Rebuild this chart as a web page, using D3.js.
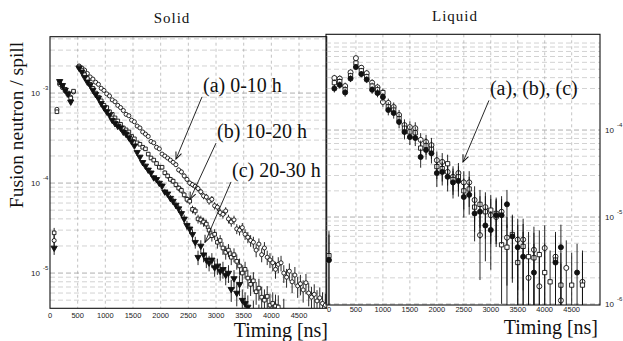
<!DOCTYPE html>
<html>
<head>
<meta charset="utf-8">
<script src="https://cdn.jsdelivr.net/npm/d3@7"></script>
<style>
  body { margin: 0; background: #fff; }
  svg { display: block; }
</style>
</head>
<body>
<svg id="chart" width="623" height="341"></svg>
<script>
// ---- Solid target: 50 ns bins, fusion neutrons per spill ----
const solidTimeNs = [
  25, 75, 125, 175, 225, 275, 325, 375, 425, 475,
  525, 575, 625, 675, 725, 775, 825, 875, 925, 975,
  1025, 1075, 1125, 1175, 1225, 1275, 1325, 1375, 1425, 1475,
  1525, 1575, 1625, 1675, 1725, 1775, 1825, 1875, 1925, 1975,
  2025, 2075, 2125, 2175, 2225, 2275, 2325, 2375, 2425, 2475,
  2525, 2575, 2625, 2675, 2725, 2775, 2825, 2875, 2925, 2975,
  3025, 3075, 3125, 3175, 3225, 3275, 3325, 3375, 3425, 3475,
  3525, 3575, 3625, 3675, 3725, 3775, 3825, 3875, 3925, 3975,
  4025, 4075, 4125, 4175, 4225, 4275, 4325, 4375, 4425, 4475,
  4525, 4575, 4625, 4675, 4725, 4775, 4825, 4875, 4925, 4975
];
// (a) 0-10 h
const solidA = [
  null, 2.3e-5, 6.6e-4, 1.25e-3, 1.15e-3, 1.05e-3, 9.6e-4, 9.0e-4, 1.03e-3, null,
  2.0e-3, 1.9e-3, 1.8e-3, 1.65e-3, 1.51e-3, 1.43e-3, 1.32e-3, 1.25e-3, 1.13e-3, 1.07e-3,
  9.8e-4, 9.3e-4, 8.4e-4, 8.0e-4, 7.3e-4, 6.9e-4, 6.4e-4, 5.8e-4, 5.6e-4, 5.0e-4,
  4.8e-4, 4.3e-4, 4.1e-4, 3.7e-4, 3.5e-4, 3.3e-4, 2.9e-4, 2.8e-4, 2.5e-4, 2.4e-4,
  2.1e-4, 2.0e-4, 1.9e-4, 1.8e-4, 1.7e-4, 1.6e-4, 1.4e-4, 1.33e-4, 1.2e-4, 1.1e-4,
  1.0e-4, 9.6e-5, 9.2e-5, 8.7e-5, 8.0e-5, 7.2e-5, 7.0e-5, 6.3e-5, 6.6e-5, 5.6e-5,
  5.4e-5, 4.7e-5, 4.5e-5, 4.9e-5, 4.0e-5, 3.7e-5, 3.9e-5, 3.1e-5, 3.0e-5, 3.2e-5,
  2.7e-5, 2.5e-5, 2.3e-5, 2.2e-5, 1.8e-5, 2.1e-5, 1.6e-5, 1.9e-5, 1.5e-5, 1.4e-5,
  1.3e-5, 1.1e-5, 1.25e-5, 1.3e-5, 1.0e-5, 9.0e-6, 1.05e-5, 8.0e-6, 9.5e-6, 7.2e-6,
  7.6e-6, 6.5e-6, 7.8e-6, 6.0e-6, 5.4e-6, 5.8e-6, 4.9e-6, 5.3e-6, 4.6e-6, 4.4e-6
];
// (b) 10-20 h
const solidB = [
  null, 2.8e-5, 6.2e-4, 1.3e-3, 1.2e-3, 1.1e-3, 1.0e-3, 8.8e-4, 1.05e-3, null,
  1.95e-3, 1.8e-3, 1.6e-3, 1.45e-3, 1.25e-3, 1.13e-3, 1.0e-3, 9.0e-4, 8.2e-4, 7.3e-4,
  6.9e-4, 6.2e-4, 5.8e-4, 5.3e-4, 4.9e-4, 4.5e-4, 4.1e-4, 3.9e-4, 3.7e-4, 3.3e-4,
  3.1e-4, 2.8e-4, 2.7e-4, 2.5e-4, 2.4e-4, 2.1e-4, 1.9e-4, 1.8e-4, 1.65e-4, 1.5e-4,
  1.5e-4, 1.3e-4, 1.2e-4, 1.1e-4, 1.05e-4, 9.6e-5, 8.8e-5, 8.3e-5, 7.4e-5, 6.6e-5,
  6.3e-5, 5.1e-5, 4.9e-5, 4.0e-5, 3.9e-5, 3.7e-5, 3.5e-5, 3.0e-5, 2.6e-5, 2.7e-5,
  2.2e-5, 2.3e-5, 1.9e-5, 1.7e-5, 1.8e-5, 1.5e-5, 1.6e-5, 1.35e-5, 1.2e-5, 1.0e-5,
  1.1e-5, 8.8e-6, 7.5e-6, 8.2e-6, 6.2e-6, 6.8e-6, 5.4e-6, 5.0e-6, 5.5e-6, 4.4e-6,
  4.6e-6, 4.3e-6, 4.2e-6, null, 3.8e-6, null, null, null, null, null,
  null, null, null, null, null, null, null, null, null, null
];
// (c) 20-30 h
const solidC = [
  null, 1.9e-5, null, 1.35e-3, 1.22e-3, 1.08e-3, 9.8e-4, 8.0e-4, null, null,
  1.9e-3, 1.72e-3, 1.5e-3, 1.33e-3, 1.23e-3, 1.08e-3, 9.7e-4, 8.8e-4, 7.7e-4, 6.9e-4,
  6.2e-4, 5.7e-4, 5.0e-4, 4.6e-4, 4.3e-4, 4.1e-4, 3.7e-4, 3.5e-4, 3.2e-4, 2.9e-4,
  2.6e-4, 2.2e-4, 1.95e-4, 1.7e-4, 1.55e-4, 1.4e-4, 1.3e-4, 1.15e-4, 1.1e-4, 1.0e-4,
  9.3e-5, 8.0e-5, 7.6e-5, 6.8e-5, 6.3e-5, 5.7e-5, 5.2e-5, 4.6e-5, 4.0e-5, 3.4e-5,
  3.1e-5, 2.7e-5, 2.2e-5, 1.5e-5, 2.0e-5, 1.6e-5, 1.4e-5, 1.3e-5, 1.4e-5, 1.15e-5,
  1.2e-5, 1.05e-5, 1.1e-5, 9.5e-6, 1.0e-5, 6.6e-6, 8.7e-6, 6.0e-6, 7.5e-6, 5.0e-6,
  4.6e-6, 4.2e-6, null, 3.6e-6, null, 3.2e-6, null, null, null, null,
  null, null, null, null, null, null, null, null, null, null,
  null, null, null, null, null, null, null, null, null, null
];

// ---- Liquid target: 100 ns bins ----
const liquidTimeNs = [
  0, 100, 200, 300, 400, 500, 600, 700, 800, 900,
  1000, 1100, 1200, 1300, 1400, 1500, 1600, 1700, 1800, 1900,
  2000, 2100, 2200, 2300, 2400, 2500, 2600, 2700, 2800, 2900,
  3000, 3100, 3200, 3300, 3400, 3500, 3600, 3700, 3800, 3900,
  4000, 4100, 4200, 4300, 4400, 4500, 4600, 4700, 4800, 4900
];
const liquidA = [
  null, 3.96e-4, 3.9e-4, 3.2e-4, 4.6e-4, 6.7e-4, 5.2e-4, 4.5e-4, 3.5e-4, 3.1e-4,
  2.1e-4, 2.05e-4, 1.84e-4, 1.49e-4, 1.14e-4, 1.08e-4, 1.05e-4, 7.7e-5, 7.3e-5, 6.7e-5,
  4.5e-5, 4.3e-5, 3.3e-5, 2.9e-5, 3.2e-5, 2.5e-5, 2.5e-5, 1.57e-5, 6.2e-6, 1.3e-5,
  1.05e-5, 1.0e-5, 1.15e-5, 5.8e-6, null, 5.5e-6, 5.5e-6, 2.0e-6, 4.2e-6, 1.6e-6,
  4.4e-6, null, 3.5e-6, 1.1e-6, 2.6e-6, null, null, 1.8e-6, null, null
];
const liquidB = [
  3.6e-6, 3.5e-4, 3.6e-4, 2.9e-4, 4.2e-4, 5.9e-4, 4.8e-4, 4.1e-4, 3.2e-4, 2.9e-4,
  2.7e-4, 1.85e-4, 1.7e-4, 1.35e-4, 1.05e-4, 9.5e-5, 9.3e-5, 6.2e-5, 6.6e-5, 6.0e-5,
  3.8e-5, 3.6e-5, 4.1e-5, 2.7e-5, 2.9e-5, 2.0e-5, 2.1e-5, 1.3e-5, 1.4e-5, 1.15e-5,
  1.2e-5, 1.1e-5, 4.8e-6, 4.5e-6, 6.3e-6, 3.0e-6, 4.6e-6, 3.5e-6, 3.4e-6, 3.7e-6,
  2.3e-6, 1.8e-6, 3.2e-6, 1.65e-6, null, 1.65e-6, null, 1.65e-6, null, null
];
const liquidC = [
  3.2e-6, 3.0e-4, 3.3e-4, 2.7e-4, 3.9e-4, 5.3e-4, 4.4e-4, 3.8e-4, 2.9e-4, 2.66e-4,
  2.4e-4, 1.7e-4, 1.57e-4, 1.24e-4, 9.5e-5, 8.3e-5, 8.1e-5, 4.9e-5, 5.9e-5, 5.4e-5,
  3.2e-5, 3.3e-5, 2.9e-5, 2.5e-5, 2.6e-5, 1.7e-5, 1.8e-5, 1.1e-5, 1.15e-5, 8.0e-6,
  7.1e-6, 1.05e-5, 1.05e-5, 1.4e-5, 6.0e-6, 4.5e-6, 3.5e-6, null, 2.3e-6, null,
  null, null, 3.0e-6, 4.5e-6, null, null, 2.3e-6, null, null, null
];

// ---- Axis ticks and labels ----
const timeTicks = [0, 500, 1000, 1500, 2000, 2500, 3000, 3500, 4000, 4500];
const solidDecades = [1e-3, 1e-4, 1e-5];
const liquidDecades = [1e-4, 1e-5, 1e-6];
const solidLabels = ["(a) 0-10 h", "(b) 10-20 h", "(c) 20-30 h"];
const liquidLabels = ["(a), (b), (c)"];
// label anchor [time, value] and arrow tip [time, value]
const solidLabelAt = [[2765, 1.03e-3], [3018, 3.16e-4], [3289, 1.17e-4]];
const solidArrowTip = [[2277, 1.85e-4], [2530, 6.6e-5], [2801, 2.2e-5]];
const liquidLabelAt = [[2985, 2.5e-4]];
const liquidArrowTip = [[2485, 4.3e-5]];

const SERIF = "'Liberation Serif', 'Times New Roman', serif";
const SANS = "'Liberation Sans', Arial, sans-serif";

const svg = d3.select("#chart");

// marker shapes for (a), (b), (c) in each panel
const solidMarkers = [
  { type: d3.symbolCircle, area: 13, fill: "#fff", rotate: 0 },
  { type: d3.symbolSquare, area: 13, fill: "#fff", rotate: 0 },
  { type: d3.symbolTriangle, area: 17, fill: "#111", rotate: 180 }
];
const liquidMarkers = [
  { type: d3.symbolCircle, area: 20, fill: "#fff", rotate: 0 },
  { type: d3.symbolSquare, area: 18, fill: "#fff", rotate: 0 },
  { type: d3.symbolCircle, area: 20, fill: "#111", rotate: 0 }
];

const panels = [
  {
    id: "solid", title: "Solid", titleX: 172, titleY: 23,
    time: solidTimeNs, series: [solidA, solidB, solidC], markers: solidMarkers,
    x: d3.scaleLinear().domain([0, 5000]).range([50, 326.7]),
    y: d3.scaleLog().domain([4.06e-6, 4.23e-3]).range([308.3, 36.7]),
    decades: solidDecades, decadeSide: "left",
    countUnit: 5e-7,
    labels: solidLabels, labelAt: solidLabelAt, arrowTip: solidArrowTip,
    tickLabelY: 317.5, axisTitleX: 328, axisTitleY: 336.5
  },
  {
    id: "liquid", title: "Liquid", titleX: 455, titleY: 21,
    time: liquidTimeNs, series: [liquidA, liquidB, liquidC], markers: liquidMarkers,
    x: d3.scaleLinear().domain([-55, 5025]).range([326, 600]),
    y: d3.scaleLog().domain([9.75e-7, 1.26e-3]).range([305, 34.3]),
    decades: liquidDecades, decadeSide: "right",
    countUnit: 3e-6,
    labels: liquidLabels, labelAt: liquidLabelAt, arrowTip: liquidArrowTip,
    tickLabelY: 312, axisTitleX: 598, axisTitleY: 334
  }
];

const defs = svg.append("defs");
defs.append("marker")
  .attr("id", "arrowhead")
  .attr("viewBox", "-8 -4 9 8")
  .attr("refX", 0).attr("refY", 0)
  .attr("markerWidth", 9).attr("markerHeight", 8)
  .attr("markerUnits", "userSpaceOnUse")
  .attr("orient", "auto")
  .append("path")
  .attr("d", "M-7,-3 L0,0 L-7,3")
  .attr("fill", "none").attr("stroke", "#111").attr("stroke-width", 1);

panels.forEach(p => {
  const [x0, x1] = p.x.range();
  const [yb, yt] = p.y.range();
  const g = svg.append("g").attr("class", "panel-" + p.id);

  defs.append("clipPath").attr("id", "clip-" + p.id)
    .append("rect").attr("x", x0).attr("y", yt)
    .attr("width", x1 - x0).attr("height", yb - yt);

  // horizontal log grid (decades + 2..9 subdivisions)
  const grid = g.append("g");
  grid.selectAll("line.h").data(p.y.ticks()).join("line")
    .attr("x1", x0).attr("x2", x1)
    .attr("y1", d => p.y(d)).attr("y2", d => p.y(d))
    .attr("stroke", d => p.decades.includes(d) ? "#777" : "#b4b4b4")
    .attr("stroke-width", 0.6)
    .attr("stroke-dasharray", "5,3");
  // vertical time grid
  grid.selectAll("line.v").data(timeTicks.filter(t => t > 0)).join("line")
    .attr("x1", d => p.x(d)).attr("x2", d => p.x(d))
    .attr("y1", yt).attr("y2", yb)
    .attr("stroke", "#9a9a9a")
    .attr("stroke-width", 0.6)
    .attr("stroke-dasharray", "3,3");

  // frame
  g.append("rect")
    .attr("x", x0).attr("y", yt)
    .attr("width", x1 - x0).attr("height", yb - yt)
    .attr("fill", "none").attr("stroke", "#111").attr("stroke-width", 1.1);

  // time tick labels
  g.selectAll("text.xt").data(timeTicks).join("text")
    .attr("x", d => p.x(d)).attr("y", p.tickLabelY)
    .attr("text-anchor", "middle")
    .attr("font-family", SANS).attr("font-size", 7.5)
    .attr("fill", "#222")
    .text(d => d);

  // decade labels 10^n
  const dec = g.selectAll("g.dec").data(p.decades).join("g")
    .attr("transform", d => `translate(${p.decadeSide === "left" ? 40 : 605},${p.y(d)})`);
  dec.append("text")
    .attr("x", 0).attr("y", 3)
    .attr("text-anchor", p.decadeSide === "left" ? "end" : "start")
    .attr("font-family", SANS).attr("font-size", 8).attr("fill", "#222")
    .text("10");
  dec.append("text")
    .attr("x", p.decadeSide === "left" ? 3 : 12).attr("y", -3)
    .attr("font-family", SANS).attr("font-size", 6).attr("fill", "#222")
    .text(d => String(Math.round(Math.log10(d))));

  // data: error bars and markers
  const plot = g.append("g").attr("clip-path", `url(#clip-${p.id})`);
  const ymin = p.y.domain()[0];
  p.series.forEach((vals, si) => {
    const pts = p.time.map((t, i) => ({ t, v: vals[i] })).filter(d => d.v != null);
    const ms = p.markers[si];
    plot.append("g").selectAll("line").data(pts).join("line")
      .attr("x1", d => p.x(d.t)).attr("x2", d => p.x(d.t))
      .attr("y1", d => p.y(Math.max(d.v - Math.sqrt(d.v * p.countUnit), ymin)))
      .attr("y2", d => p.y(d.v + Math.sqrt(d.v * p.countUnit)))
      .attr("stroke", "#111").attr("stroke-width", 0.9);
    const sym = d3.symbol().type(ms.type).size(ms.area);
    plot.append("g").selectAll("path").data(pts).join("path")
      .attr("transform", d => `translate(${p.x(d.t)},${p.y(d.v)}) rotate(${ms.rotate})`)
      .attr("d", sym)
      .attr("fill", ms.fill)
      .attr("stroke", "#111").attr("stroke-width", 0.9);
  });

  // series labels with arrows
  p.labels.forEach((lab, i) => {
    const lx = p.x(p.labelAt[i][0]);
    const ly = p.y(p.labelAt[i][1]);
    g.append("text")
      .attr("x", lx).attr("y", ly)
      .attr("font-family", SERIF).attr("font-size", 20).attr("fill", "#111")
      .text(lab);
    g.append("line")
      .attr("x1", lx - 1).attr("y1", ly + 5)
      .attr("x2", p.x(p.arrowTip[i][0])).attr("y2", p.y(p.arrowTip[i][1]))
      .attr("stroke", "#111").attr("stroke-width", 0.9)
      .attr("marker-end", "url(#arrowhead)");
  });

  // panel title
  g.append("text")
    .attr("x", p.titleX).attr("y", p.titleY)
    .attr("text-anchor", "middle")
    .attr("font-family", SERIF).attr("font-size", 15)
    .attr("letter-spacing", 1).attr("fill", "#111")
    .text(p.title);

  // time axis title
  g.append("text")
    .attr("x", p.axisTitleX).attr("y", p.axisTitleY)
    .attr("text-anchor", "end")
    .attr("font-family", SERIF).attr("font-size", 20).attr("fill", "#111")
    .text("Timing [ns]");
});

// vertical axis title
svg.append("text")
  .attr("transform", "translate(23,125) rotate(-90)")
  .attr("text-anchor", "middle")
  .attr("font-family", SERIF).attr("font-size", 19.5).attr("fill", "#111")
  .text("Fusion neutron / spill");
</script>
</body>
</html>
